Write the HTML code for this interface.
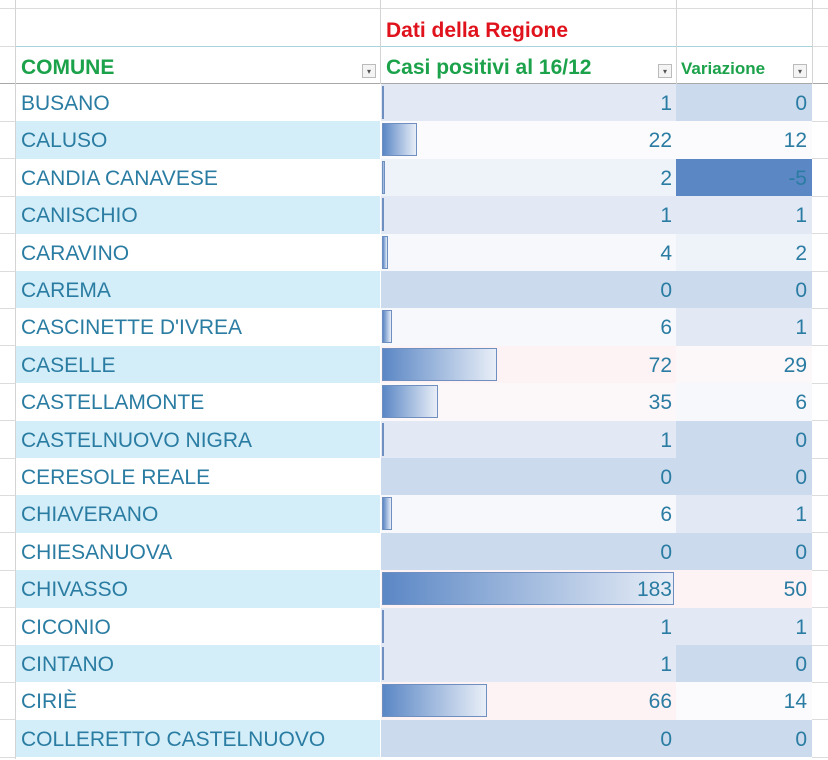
<!DOCTYPE html>
<html><head><meta charset="utf-8"><style>
body{margin:0;width:828px;height:759px;background:#fff;position:relative;overflow:hidden;font-family:"Liberation Sans",sans-serif}
div{position:absolute;box-sizing:border-box}
.t{font-size:21px;color:#2a7ca2;line-height:40px;white-space:nowrap}
.r{text-align:right}
.bar{border:1px solid #6f8fc0;background:linear-gradient(to right,#5b87c5,#e8eef7)}
.dd{width:14px;height:14px;border:1px solid #bbb;background:#f4f4f4;font-size:8px;color:#555;text-align:center;line-height:13px}
</style></head><body>
<div style="left:0;top:8px;width:828px;height:1px;background:#dcdcdc"></div>
<div style="left:0;top:46px;width:15px;height:1px;background:#dcdcdc"></div>
<div style="left:15px;top:46px;width:797px;height:1px;background:#a9d3dc"></div>
<div style="left:812px;top:46px;width:16px;height:1px;background:#dcdcdc"></div>
<div style="left:0;top:83px;width:828px;height:1px;background:#a8a8a8"></div>
<div style="left:15px;top:0;width:1px;height:759px;background:#d4d4d4"></div>
<div style="left:380px;top:0;width:1px;height:84px;background:#d4d4d4"></div>
<div style="left:676px;top:0;width:1px;height:84px;background:#d4d4d4"></div>
<div style="left:812px;top:0;width:1px;height:84px;background:#d4d4d4"></div>
<div style="left:386px;top:15px;font-size:21px;font-weight:bold;color:#e0121c;line-height:32px">Dati della Regione</div>
<div style="left:21px;top:52px;font-size:21px;font-weight:bold;color:#1ba24a;line-height:32px">COMUNE</div>
<div style="left:386px;top:52px;font-size:21px;font-weight:bold;color:#1ba24a;line-height:32px">Casi positivi al 16/12</div>
<div style="left:681px;top:55px;font-size:17px;font-weight:bold;color:#1ba24a;line-height:28px">Variazione</div>
<div class="dd" style="left:362px;top:64px">&#9662;</div>
<div class="dd" style="left:658px;top:64px">&#9662;</div>
<div class="dd" style="left:793px;top:64px">&#9662;</div>
<div id="rows"></div>
<script>
var d=[["BUSANO",1,0],["CALUSO",22,12],["CANDIA CANAVESE",2,-5],["CANISCHIO",1,1],["CARAVINO",4,2],["CAREMA",0,0],["CASCINETTE D'IVREA",6,1],["CASELLE",72,29],["CASTELLAMONTE",35,6],["CASTELNUOVO NIGRA",1,0],["CERESOLE REALE",0,0],["CHIAVERANO",6,1],["CHIESANUOVA",0,0],["CHIVASSO",183,50],["CICONIO",1,1],["CINTANO",1,0],["CIRIÈ",66,14],["COLLERETTO CASTELNUOVO",0,0]];
function col(v){if(v<0)return"#5b87c5";if(v==0)return"#cbdaed";if(v==1)return"#e2e9f5";if(v==2)return"#eef2f9";if(v<=6)return"#f6f8fc";if(v<=22)return"#fbfbfd";if(v<=35)return"#fcf7f9";return"#fdf3f5";}
var h="";for(var i=0;i<d.length;i++){var y=84+i*37.4,r=d[i];
var a=(i%2)?"#d3eef8":"#fff";
h+='<div style="left:16px;top:'+y+'px;width:364px;height:37.4px;background:'+a+'"></div>';
h+='<div style="left:381px;top:'+y+'px;width:295px;height:37.4px;background:'+col(r[1])+'"></div>';
h+='<div style="left:676px;top:'+y+'px;width:136px;height:37.4px;background:'+col(r[2])+'"></div>';
h+='<div style="left:0;top:'+(y+37)+'px;width:15px;height:1px;background:#dcdcdc"></div>';
h+='<div style="left:812px;top:'+(y+37)+'px;width:16px;height:1px;background:#dcdcdc"></div>';
if(r[1]>0){var w=Math.max(2,292*r[1]/183);h+='<div class="bar" style="left:382px;top:'+(y+2)+'px;width:'+w+'px;height:33px"></div>';}
h+='<div class="t" style="left:21px;top:'+y+'px">'+r[0]+'</div>';
h+='<div class="t r" style="left:381px;top:'+y+'px;width:291px">'+r[1]+'</div>';
h+='<div class="t r" style="left:676px;top:'+y+'px;width:131px">'+r[2]+'</div>';}
document.getElementById("rows").outerHTML=h;
</script>
</body></html>
